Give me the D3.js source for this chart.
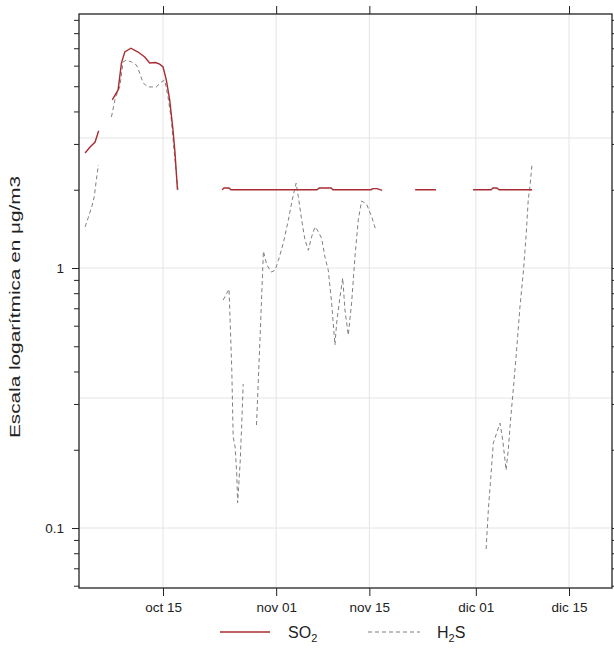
<!DOCTYPE html>
<html>
<meta charset="utf-8" />
<script src="https://d3js.org/d3.v7.min.js"></script>
<body>
<div id="chart"></div>
<script>
// SO2: null value = no data (line breaks there)
var so2Times = ["2013-10-03 07", "2013-10-04 01", "2013-10-04 19", "2013-10-05 08", "2013-10-06 00",
  "2013-10-07 09", "2013-10-08 06", "2013-10-08 18", "2013-10-09 06", "2013-10-10 04", "2013-10-11 06",
  "2013-10-12 06", "2013-10-13 00", "2013-10-13 20", "2013-10-14 12", "2013-10-15 00", "2013-10-15 12",
  "2013-10-16 00", "2013-10-16 12", "2013-10-16 19", "2013-10-17 04", "2013-10-20 00",
  "2013-10-23 21", "2013-10-24 04", "2013-10-24 22", "2013-10-25 05", "2013-11-07 03", "2013-11-07 11",
  "2013-11-09 06", "2013-11-09 13", "2013-11-15 06", "2013-11-15 13", "2013-11-16 04", "2013-11-16 22",
  "2013-11-19 00", "2013-11-21 21", "2013-11-25 00", "2013-11-28 00",
  "2013-11-30 14", "2013-12-03 07", "2013-12-03 14", "2013-12-04 04", "2013-12-04 12", "2013-12-09 11"];
var so2Values = [2.77, 2.92, 3.05, 3.37, null,
  4.43, 4.84, 6.14, 6.77, 7.0, 6.77,
  6.48, 6.14, 6.17, 6.08, 5.93, 5.28,
  4.43, 3.39, 2.79, 2.0, null,
  2.0, 2.03, 2.03, 2.0, 2.0, 2.03,
  2.03, 2.0, 2.0, 2.02, 2.02, 1.99,
  null, 2.0, 2.0, null,
  2.0, 2.0, 2.03, 2.03, 2.0, 2.0];

var h2sTimes = ["2013-10-03 07", "2013-10-03 19", "2013-10-04 07", "2013-10-04 16", "2013-10-04 22",
  "2013-10-05 07", "2013-10-06 00",
  "2013-10-07 06", "2013-10-07 20", "2013-10-08 12", "2013-10-09 00", "2013-10-09 12", "2013-10-10 06",
  "2013-10-11 00", "2013-10-11 12", "2013-10-12 00", "2013-10-12 18", "2013-10-14 00", "2013-10-14 18",
  "2013-10-15 06", "2013-10-15 18", "2013-10-16 06", "2013-10-16 18", "2013-10-17 06", "2013-10-20 00",
  "2013-10-24 01", "2013-10-24 22", "2013-10-25 08", "2013-10-25 13", "2013-10-25 20", "2013-10-26 02",
  "2013-10-26 05", "2013-10-26 14", "2013-10-26 20", "2013-10-27 01", "2013-10-28 00",
  "2013-10-29 01", "2013-10-29 14", "2013-10-30 02", "2013-10-30 14", "2013-10-31 06", "2013-10-31 20",
  "2013-11-01 08", "2013-11-02 02", "2013-11-02 20", "2013-11-03 10", "2013-11-04 00", "2013-11-04 08",
  "2013-11-04 20", "2013-11-05 08", "2013-11-05 20", "2013-11-06 08", "2013-11-06 20", "2013-11-07 08",
  "2013-11-07 20", "2013-11-08 08", "2013-11-08 20", "2013-11-09 08", "2013-11-09 20", "2013-11-10 02",
  "2013-11-10 14", "2013-11-11 00", "2013-11-11 08", "2013-11-11 20", "2013-11-12 08", "2013-11-12 20",
  "2013-11-13 08", "2013-11-13 20", "2013-11-14 14", "2013-11-15 09", "2013-11-16 00", "2013-11-24 00",
  "2013-12-02 13", "2013-12-02 21", "2013-12-03 06", "2013-12-03 15", "2013-12-04 03", "2013-12-04 15",
  "2013-12-05 01", "2013-12-05 13", "2013-12-05 21", "2013-12-06 06", "2013-12-06 15", "2013-12-07 03",
  "2013-12-07 15", "2013-12-08 03", "2013-12-08 13", "2013-12-08 21", "2013-12-09 03", "2013-12-09 11"];
var h2sValues = [1.44, 1.57, 1.72, 1.88, 2.12,
  2.49, null,
  3.81, 4.51, 4.97, 6.2, 6.31, 6.2,
  6.04, 5.62, 5.15, 4.97, 4.97, 5.19,
  5.28, 4.55, 3.71, 2.67, 2.0, null,
  0.753, 0.83, 0.405, 0.224, 0.205, 0.16,
  0.125, 0.178, 0.253, 0.358, null,
  0.249, 0.543, 1.16, 1.03, 0.965, 0.98,
  1.07, 1.25, 1.53, 1.83, 2.12, 1.88,
  1.53, 1.28, 1.17, 1.32, 1.44, 1.38,
  1.30, 1.10, 0.98, 0.733, 0.506, 0.614,
  0.773, 0.915, 0.689, 0.552, 0.733, 1.10,
  1.53, 1.81, 1.76, 1.57, 1.39, null,
  0.083, 0.117, 0.157, 0.212, 0.232, 0.253,
  0.218, 0.167, 0.2, 0.267, 0.34, 0.484,
  0.708, 0.957, 1.32, 1.83, 2.05, 2.53];

var xTickDates = ["2013-10-15 00", "2013-11-01 00", "2013-11-15 00", "2013-12-01 00", "2013-12-15 00"];
var xTickLabels = ["oct 15", "nov 01", "nov 15", "dic 01", "dic 15"];
var yLabelTicks = [0.1, 1];
var yLabelText = ["0.1", "1"];
var yMinorTicks = [0.06, 0.07, 0.08, 0.09, 0.2, 0.3, 0.4, 0.5, 0.6, 0.7, 0.8, 0.9, 2, 3, 4, 5, 6, 7, 8, 9];
var yGrid = [0.1, 0.3162, 1, 3.162];

var parse = d3.timeParse("%Y-%m-%d %H");

var margin = {top: 14, right: 2, bottom: 62, left: 79},
    width = 614 - margin.left - margin.right,
    height = 650 - margin.top - margin.bottom;

var svg = d3.select("#chart")
  .append("svg")
    .attr("width", 614)
    .attr("height", 650)
  .append("g")
    .attr("transform", "translate(" + margin.left + "," + margin.top + ")");

var x = d3.scaleTime()
  .domain([parse("2013-10-02 09"), parse("2013-12-21 11")])
  .range([0, width]);
var y = d3.scaleLog()
  .domain([0.0588, 9.48])
  .range([height, 0]);

// grid
svg.append("g").selectAll("line")
  .data(xTickDates)
  .enter().append("line")
  .attr("x1", function(d) { return x(parse(d)); })
  .attr("x2", function(d) { return x(parse(d)); })
  .attr("y1", 0).attr("y2", height)
  .attr("stroke", "#e4e4e4");
svg.append("g").selectAll("line")
  .data(yGrid)
  .enter().append("line")
  .attr("x1", 0).attr("x2", width)
  .attr("y1", function(d) { return y(d); })
  .attr("y2", function(d) { return y(d); })
  .attr("stroke", "#e4e4e4");

// axes
var font = "'Liberation Sans', Arial, sans-serif";
var xb = svg.append("g")
  .attr("transform", "translate(0," + height + ")")
  .call(d3.axisBottom(x).tickValues(xTickDates.map(parse)).tickSize(8).tickPadding(6)
    .tickFormat(function(d, i) { return xTickLabels[i]; }));
var xt = svg.append("g")
  .call(d3.axisTop(x).tickValues(xTickDates.map(parse)).tickSize(8).tickFormat(""));
var yl = svg.append("g")
  .call(d3.axisLeft(y).tickValues(yLabelTicks).tickSize(7).tickPadding(8)
    .tickFormat(function(d, i) { return yLabelText[i]; }));
var ylm = svg.append("g")
  .call(d3.axisLeft(y).tickValues(yMinorTicks).tickSize(5).tickFormat(""));
var yr = svg.append("g")
  .attr("transform", "translate(" + width + ",0)")
  .call(d3.axisRight(y).tickValues(yLabelTicks.concat(yMinorTicks)).tickSize(5).tickFormat(""));

[xb, xt, yl, ylm, yr].forEach(function(g) {
  g.select(".domain").remove();
  g.selectAll("line").attr("stroke", "#222");
  g.selectAll("text").attr("font-family", font).attr("font-size", 13.5).attr("fill", "#222");
});

svg.append("rect")
  .attr("width", width).attr("height", height)
  .attr("fill", "none").attr("stroke", "#222").attr("stroke-width", 1.3);

// lines
var line = d3.line()
  .defined(function(d) { return d[1] !== null; })
  .x(function(d) { return x(d[0]); })
  .y(function(d) { return y(d[1]); });

var so2 = so2Times.map(function(t, i) { return [parse(t), so2Values[i]]; });
var h2s = h2sTimes.map(function(t, i) { return [parse(t), h2sValues[i]]; });

svg.append("path")
  .datum(h2s)
  .attr("fill", "none")
  .attr("stroke", "#7f7f7f")
  .attr("stroke-width", 1)
  .attr("stroke-dasharray", "4,3")
  .attr("d", line);

svg.append("path")
  .datum(so2)
  .attr("fill", "none")
  .attr("stroke", "#a82c32")
  .attr("stroke-width", 1.4)
  .attr("d", line);

// y title (stretched along its baseline like the original)
svg.append("text")
  .attr("transform", "translate(" + (-59) + "," + (height / 2 + 6) + ") rotate(-90)")
  .attr("text-anchor", "middle")
  .attr("font-family", font)
  .attr("font-size", 15)
  .attr("fill", "#222")
  .attr("textLength", 262)
  .attr("lengthAdjust", "spacingAndGlyphs")
  .text("Escala logarítmica en μg/m3");

// legend
var leg = d3.select("svg").append("g");
leg.append("line").attr("x1", 220).attr("x2", 270).attr("y1", 632).attr("y2", 632)
  .attr("stroke", "#a82c32").attr("stroke-width", 1.4);
leg.append("line").attr("x1", 368).attr("x2", 420).attr("y1", 632).attr("y2", 632)
  .attr("stroke", "#7f7f7f").attr("stroke-dasharray", "4,3");
var t1 = leg.append("text").attr("x", 288).attr("y", 638)
  .attr("font-family", font).attr("font-size", 16).attr("fill", "#222");
t1.append("tspan").text("SO");
t1.append("tspan").attr("dy", 4).attr("font-size", 11).text("2");
var t2 = leg.append("text").attr("x", 437).attr("y", 638)
  .attr("font-family", font).attr("font-size", 16).attr("fill", "#222");
t2.append("tspan").text("H");
t2.append("tspan").attr("dy", 4).attr("font-size", 11).text("2");
t2.append("tspan").attr("dy", -4).text("S");
</script>
</body>
<style>
  body { margin: 0; background: #fff; }
</style>
</html>
